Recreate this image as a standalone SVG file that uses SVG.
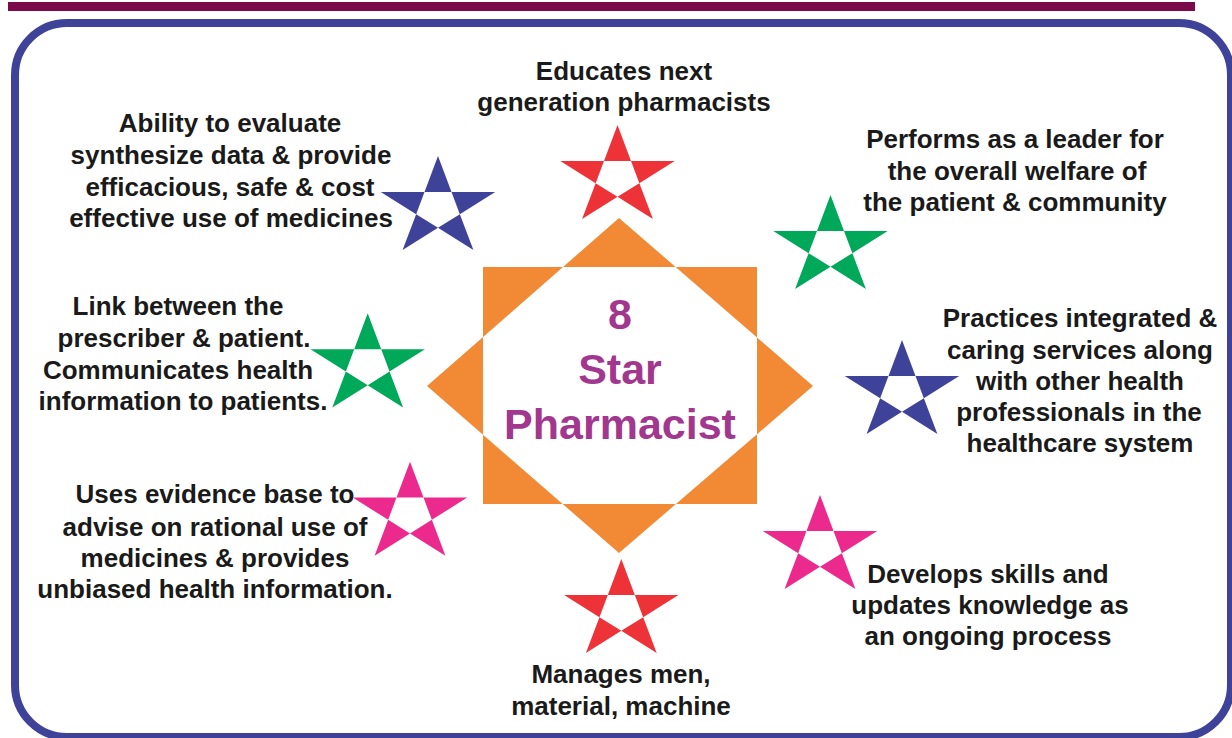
<svg xmlns="http://www.w3.org/2000/svg" width="1232" height="738" viewBox="0 0 1232 738">
<style>
.t{font-family:"Liberation Sans",Arial,sans-serif;font-weight:bold;font-size:26px;fill:#1a1a1a;text-anchor:middle}
.c{font-family:"Liberation Sans",Arial,sans-serif;font-weight:bold;font-size:43px;fill:#a2378f;text-anchor:middle}
.red{fill:#ee3338}.blue{fill:#3f4299}.green{fill:#00a859}.pink{fill:#ec2a8e}
</style>
<defs>
<path id="star" fill-rule="evenodd" d="M0,-52 L13.5,-16.1 L57.2,-16.1 L21.85,6.14 L35.4,42.1 L0,19.86 L-35.4,42.1 L-21.85,6.14 L-57.2,-16.1 L-13.5,-16.1 Z M13.5,-16.1 L21.85,6.14 L0,19.86 L-21.85,6.14 L-13.5,-16.1 Z"/>
</defs>
<rect width="1232" height="738" fill="#ffffff"/>
<rect x="8" y="2" width="1187" height="9" fill="#7b0a4a"/>
<rect x="15" y="23" width="1216" height="714" rx="52" ry="52" fill="none" stroke="#3f4299" stroke-width="8"/>
<g id="connectors"/>
<g id="center">
<path fill="#f28a35" fill-rule="evenodd" d="M483,267 H757 V504 H483 Z M619,218 L813,386 L619,553 L427,386 Z"/>
<text class="c" x="620" y="329">8</text>
<text class="c" x="620" y="384">Star</text>
<text class="c" x="620" y="439">Pharmacist</text>
</g>
<g id="node-educates">
<text class="t" x="624" y="80">Educates next</text>
<text class="t" x="624" y="111">generation pharmacists</text>
<use href="#star" class="red" x="617.5" y="177"/>
</g>
<g id="node-ability">
<text class="t" x="230" y="132">Ability to evaluate</text>
<text class="t" x="231" y="164">synthesize data &amp; provide</text>
<text class="t" x="230" y="196">efficacious, safe &amp; cost</text>
<text class="t" x="231" y="227">effective use of medicines</text>
<use href="#star" class="blue" x="438" y="208"/>
</g>
<g id="node-leader">
<text class="t" x="1015" y="148">Performs as a leader for</text>
<text class="t" x="1017" y="180">the overall welfare of</text>
<text class="t" x="1015" y="211">the patient &amp; community</text>
<use href="#star" class="green" x="830.5" y="247"/>
</g>
<g id="node-link">
<text class="t" x="178" y="315">Link between the</text>
<text class="t" x="184" y="347">prescriber &amp; patient.</text>
<text class="t" x="178" y="379">Communicates health</text>
<text class="t" x="183" y="410">information to patients.</text>
<use href="#star" class="green" x="367.7" y="365.3"/>
</g>
<g id="node-practices">
<text class="t" x="1080" y="327">Practices integrated &amp;</text>
<text class="t" x="1080" y="359">caring services along</text>
<text class="t" x="1080" y="390">with other health</text>
<text class="t" x="1079" y="421">professionals in the</text>
<text class="t" x="1080" y="452">healthcare system</text>
<use href="#star" class="blue" x="902" y="392"/>
</g>
<g id="node-evidence">
<text class="t" x="215" y="503">Uses evidence base to</text>
<text class="t" x="215" y="536">advise on rational use of</text>
<text class="t" x="215" y="567">medicines &amp; provides</text>
<text class="t" x="215" y="598">unbiased health information.</text>
<use href="#star" class="pink" x="410" y="513.7"/>
</g>
<g id="node-develops">
<text class="t" x="988" y="583">Develops skills and</text>
<text class="t" x="990" y="614">updates knowledge as</text>
<text class="t" x="988" y="645">an ongoing process</text>
<use href="#star" class="pink" x="820" y="547"/>
</g>
<g id="node-manages">
<text class="t" x="621" y="683">Manages men,</text>
<text class="t" x="621" y="715">material, machine</text>
<use href="#star" class="red" x="621.3" y="611"/>
</g>
</svg>
